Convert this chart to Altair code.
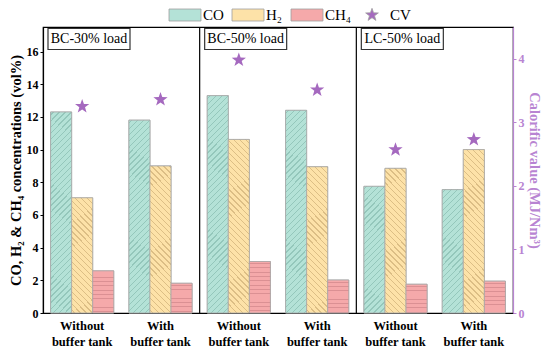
import math
import altair as alt
import pandas as pd

# ---------------- data ----------------
panels = ["BC-30% load", "BC-50% load", "LC-50% load"]
conditions = ["Without", "With"]
series = ["CO", "H₂", "CH₄"]
co = [12.3, 11.8, 13.3, 12.4, 7.75, 7.55]
h2 = [7.05, 9.0, 10.62, 8.95, 8.85, 10.0]
ch4 = [2.58, 1.82, 3.15, 2.02, 1.76, 1.95]
cv = [3.25, 3.36, 3.98, 3.51, 2.57, 2.73]

legend_domain = ["CO", "H₂", "CH₄", "CV"]
fill_colors = ["#b4e2d7", "#fde2a8", "#f5a9aa", "#a569bf"]
hatch_colors = ["#94c7bb", "#dcbe85", "#db9093"]
hatch_kind = ["fwd", "back", "horiz"]
purple_axis = "#b884d2"
FONT = "Liberation Serif"

# approximate drawing scale used only to size the hatch pattern
BAR_W = 21.0
PX_PER_UNIT = 16.0

keys = [f"{p}|{c}" for p in panels for c in conditions]

rows = []
for i, k in enumerate(keys):
    for s, vals in zip(series, [co, h2, ch4]):
        rows.append({"cond": k, "s": s, "v": vals[i]})
bars_df = pd.DataFrame(rows)
cv_df = pd.DataFrame({"cond": keys, "s": ["CV"] * len(keys), "cv": cv})
sep_df = pd.DataFrame({"cond": [f"{p}|{conditions[0]}" for p in panels[1:]]})
lab_df = pd.DataFrame({"cond": [f"{p}|{conditions[0]}" for p in panels],
                       "label": panels, "v": [17.5] * 3})


# symbol shapes
def star_path(R=0.5, r=0.2):
    pts = []
    for i in range(10):
        rad = R if i % 2 == 0 else r
        a = -math.pi / 2 + i * math.pi / 5
        pts.append(f"{rad*math.cos(a):.3f},{rad*math.sin(a):.3f}")
    return "M" + "L".join(pts) + "Z"


STAR = star_path()
RECT = "M-1.2,-0.45L1.2,-0.45L1.2,0.45L-1.2,0.45Z"
BOX = "M-1,-0.256L1,-0.256L1,0.256L-1,0.256Z"


def hatch_gradient(fill, line, kind, value, period=4.2, thick=0.9):
    w = BAR_W
    h = max(value * PX_PER_UNIT, 1.0)
    if kind == "horiz":
        coords = dict(x1=0, y1=0, x2=0, y2=1)
        dt = period / h
        tmax = 1.0
        k_t = 1.0 / h
    else:
        L2 = w * w + h * h
        k_t = math.sqrt(2) * w / L2          # t per perpendicular pixel
        dt = period * k_t
        tmax = min(1.0, w * (w + h) / L2)
        if kind == "fwd":
            coords = dict(x1=0, y1=0, x2=1, y2=h / w)
        else:
            coords = dict(x1=0, y1=1, x2=1, y2=1 - h / w)
    half = thick * k_t / 2
    stops = [alt.GradientStop(offset=0, color=fill)]
    c = dt * 0.5
    while c + half < tmax:
        a, b = c - half, c + half
        stops += [alt.GradientStop(offset=round(a, 5), color=fill),
                  alt.GradientStop(offset=round(a, 5), color=line),
                  alt.GradientStop(offset=round(b, 5), color=line),
                  alt.GradientStop(offset=round(b, 5), color=fill)]
        c += dt
    stops.append(alt.GradientStop(offset=1, color=fill))
    return alt.LinearGradient(gradient="linear", stops=stops, **coords)


x_scale = alt.Scale(paddingInner=0, paddingOuter=0)
x_axis = alt.Axis(title=None, ticks=False, domainColor="black", domainWidth=1.2,
                  labelExpr="[split(datum.value, '|')[1], 'buffer tank']",
                  labelFont=FONT, labelFontWeight="bold", labelFontSize=12.5,
                  labelColor="black", labelAngle=0, labelPadding=6,
                  labelLineHeight=16)
y_scale = alt.Scale(domain=[0, 17.5], nice=False)
y_axis = alt.Axis(title="CO, H₂ & CH₄ concentrations (vol%)", values=list(range(0, 17, 2)),
                  labelOverlap=False, grid=False, domainColor="black", domainWidth=1.2,
                  tickColor="black", tickSize=3,
                  labelFont=FONT, labelFontWeight="bold", labelFontSize=12,
                  labelColor="black", labelPadding=2,
                  titleFont=FONT, titleFontWeight="bold", titleFontSize=14.5,
                  titleColor="black", titlePadding=3)


def xenc(band=None):
    if band is None:
        return alt.X("cond:N", sort=keys, scale=x_scale, axis=x_axis)
    return alt.X("cond:N", sort=keys, scale=x_scale, axis=x_axis, bandPosition=band)


def yenc(field="v"):
    return alt.Y(f"{field}:Q", scale=y_scale, axis=y_axis)


xo_enc = alt.XOffset("s:N", sort=series, scale=alt.Scale(paddingInner=0, paddingOuter=0.36))

color_scale = alt.Scale(domain=legend_domain, range=fill_colors)
shape_scale = alt.Scale(domain=legend_domain, range=[RECT, RECT, RECT, STAR])

bars = alt.Chart(bars_df).mark_bar(stroke="#a8a8a8", strokeWidth=0.8).encode(
    x=xenc(),
    xOffset=xo_enc,
    y=yenc(),
    color=alt.Color("s:N", scale=color_scale,
                    legend=alt.Legend(title=None, orient="none", direction="horizontal",
                                      legendX=128, legendY=-26)),
)

hatch_layers = []
for i, k in enumerate(keys):
    for j, (s, vals) in enumerate(zip(series, [co, h2, ch4])):
        g = hatch_gradient(fill_colors[j], hatch_colors[j], hatch_kind[j], vals[i])
        hatch_layers.append(
            alt.Chart(bars_df).transform_filter(
                f"datum.cond == '{k}' && datum.s == '{s}'"
            ).mark_bar(fill=g, stroke="#a8a8a8", strokeWidth=0.8).encode(
                x=xenc(),
                xOffset=xo_enc,
                y=yenc(),
            )
        )

seps = alt.Chart(sep_df).mark_rule(color="black", strokeWidth=1.2).encode(
    x=xenc(0),
)

boxes = alt.Chart(lab_df).mark_point(shape=BOX, size=82 * 82, filled=True, fill="white",
                                     stroke="#333333", strokeWidth=1.2, opacity=1,
                                     xOffset=46, yOffset=12).encode(
    x=xenc(0),
    y=yenc(),
)
texts = alt.Chart(lab_df).mark_text(font=FONT, fontSize=14, color="black", align="center",
                                    baseline="middle", xOffset=46, yOffset=12).encode(
    x=xenc(0),
    y=yenc(),
    text="label:N",
)

left = alt.layer(bars, *hatch_layers, seps, boxes, texts)

stars = alt.Chart(cv_df).mark_point(filled=True, opacity=1, size=30 * 30,
                                    strokeWidth=0).encode(
    x=xenc(),
    y=alt.Y("cv:Q", scale=alt.Scale(domain=[0, 4.5], nice=False),
            axis=alt.Axis(orient="right", title="Calorific value (MJ/Nm³)",
                          values=[0, 1, 2, 3, 4], grid=False,
                          domainColor=purple_axis, domainWidth=1.2, tickColor=purple_axis,
                          tickSize=3, labelFont=FONT, labelFontSize=12, labelFontWeight="bold",
                          labelColor=purple_axis, labelPadding=2, titleFont=FONT,
                          titleFontWeight="bold", titleFontSize=14.5, titleColor=purple_axis,
                          titlePadding=2)),
    color=alt.Color("s:N", scale=color_scale),
    shape=alt.Shape("s:N", scale=shape_scale),
)

chart = alt.layer(left, stars).resolve_scale(y="independent").properties(
    width=534, height=340,
    padding={"left": 0, "right": 1, "top": 18, "bottom": 0},
    autosize=alt.AutoSizeParams(type="fit", contains="padding"),
).configure_view(stroke="black", strokeWidth=1.2).configure_axis(
    labelFont=FONT, titleFont=FONT,
).configure_axisX(labelFont=FONT).configure_axisY(labelFont=FONT).configure_legend(
    labelFont=FONT, labelFontSize=15, labelColor="black", symbolSize=711,
    symbolStrokeColor="#a0a0a0", symbolStrokeWidth=0.8, columnPadding=6,
    labelOffset=4,
)

chart.save("out.html", embed_options={"renderer": "svg", "actions": False})
